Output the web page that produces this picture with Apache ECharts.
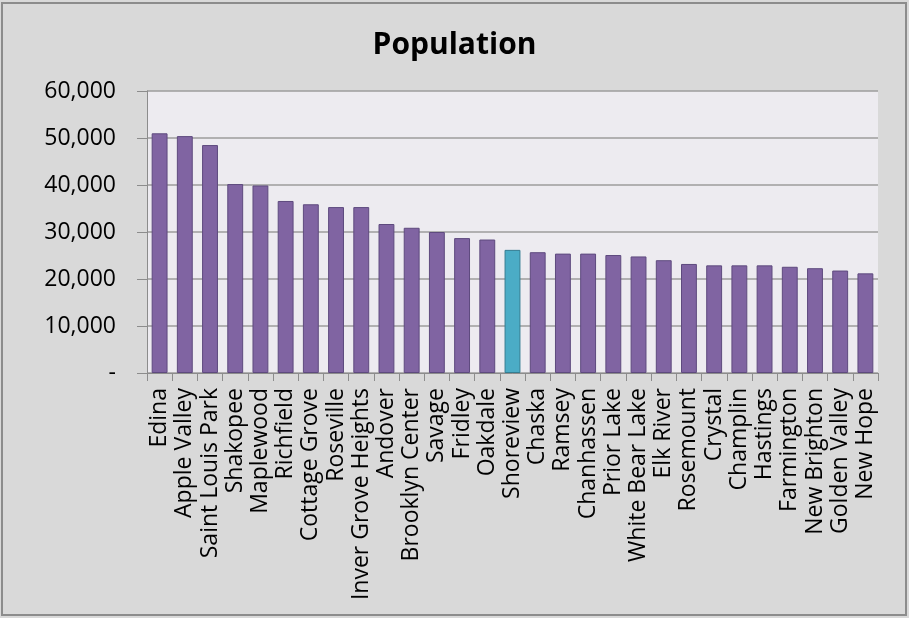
<!DOCTYPE html>
<html><head><meta charset="utf-8">
<script src="https://cdn.jsdelivr.net/npm/echarts@6/dist/echarts.min.js"></script>
<style>html,body{margin:0;padding:0;background:#d9d9d9;}#c{width:909px;height:618px;}</style>
</head><body><div id="c"></div>
<script>
const categories = ["Edina","Apple Valley","Saint Louis Park","Shakopee","Maplewood","Richfield","Cottage Grove","Roseville","Inver Grove Heights","Andover","Brooklyn Center","Savage","Fridley","Oakdale","Shoreview","Chaska","Ramsey","Chanhassen","Prior Lake","White Bear Lake","Elk River","Rosemount","Crystal","Champlin","Hastings","Farmington","New Brighton","Golden Valley","New Hope"];
const population = [51000,50400,48500,40200,39900,36600,35900,35300,35300,31700,30900,30000,28700,28400,26200,25700,25400,25400,25100,24800,24000,23200,22900,22900,22900,22600,22300,21800,21200];
const highlighted = "Shoreview";
const titleText = "Population";
const FONT = "Open Sans";

const chart = echarts.init(document.getElementById('c'), null, {renderer:'canvas'});
chart.setOption({
  backgroundColor: '#d9d9d9',
  animation: false,
  graphic: [{type:'rect', shape:{x:2,y:3,width:904,height:612}, style:{fill:'none', stroke:'#8c8c8c', lineWidth:2}, silent:true}],
  title: {text: titleText, left: 'center', top: 25, textStyle:{fontFamily:FONT, fontSize:30, fontWeight:'bold', color:'#000'}},
  grid: {left:147, right:31, top:91, bottom:245, show:true, backgroundColor:'#edebf0', borderWidth:0},
  xAxis: {
    type:'category', data: categories,
    axisLine:{lineStyle:{color:'#8c8c8c', width:1}},
    axisTick:{show:true, length:8, lineStyle:{color:'#8c8c8c'}},
    axisLabel:{rotate:90, interval:0, fontFamily:FONT, fontSize:23, color:'#000', margin:15}
  },
  yAxis: {
    type:'value', min:0, max:60000, interval:10000,
    axisLine:{show:true, lineStyle:{color:'#8c8c8c'}},
    axisTick:{show:true, length:10, lineStyle:{color:'#8c8c8c'}},
    splitLine:{lineStyle:{color:'#9c9c9c', width:1.5}},
    axisLabel:{fontFamily:FONT, fontSize:23, color:'#000', margin:31,
      formatter: v => v === 0 ? '-' : v.toLocaleString('en-US')}
  },
  series: [{
    type:'bar', barWidth:'63%',
    data: population.map((v,i) => ({value:v, itemStyle: categories[i]===highlighted ? {color:'#4bacc6', borderColor:'#357d91'} : {}})),
    itemStyle:{color:'#8064a2', borderColor:'#5e4a7e', borderWidth:1}
  }]
});
</script></body></html>
